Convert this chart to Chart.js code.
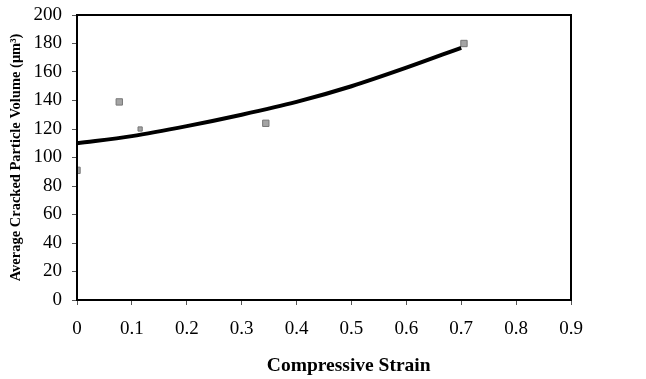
<!DOCTYPE html>
<html>
<head>
<meta charset="utf-8">
<script src="https://cdn.jsdelivr.net/npm/chart.js@4/dist/chart.umd.min.js"></script>
<style>
  html, body { margin: 0; padding: 0; background: #fff; }
  #wrap { width: 646px; height: 379px; }
</style>
</head>
<body>
<div id="wrap"><canvas id="c" width="646" height="379"></canvas></div>
<script>
// Measured particle volumes
const strainData = [0, 0.077, 0.115, 0.344, 0.705];
const volumeData = [91, 139, 120, 124, 180];

// Trend curve
const trendStrain = [0, 0.1, 0.2, 0.3, 0.4, 0.5, 0.6, 0.7];
const trendVolume = [110, 115, 122, 130, 139, 150, 163, 177];

const xTicks = [0, 0.1, 0.2, 0.3, 0.4, 0.5, 0.6, 0.7, 0.8, 0.9];
const yTicks = [0, 20, 40, 60, 80, 100, 120, 140, 160, 180, 200];

const xTitle = 'Compressive Strain';
const yTitle = 'Average Cracked Particle Volume (μm³)';

const serif = '"Liberation Serif", "Times New Roman", serif';

// Full frame round the plot area, plus the strain axis title
const frame = {
  id: 'frame',
  afterDatasetsDraw(chart) {
    const { ctx, chartArea: a } = chart;
    ctx.save();
    ctx.strokeStyle = '#000';
    ctx.lineWidth = 2;
    ctx.strokeRect(a.left, a.top, a.right - a.left, a.bottom - a.top);
    ctx.restore();
  },
  afterDraw(chart) {
    const { ctx, chartArea: a } = chart;
    ctx.save();
    ctx.fillStyle = '#000';
    ctx.font = 'bold 19.5px ' + serif;
    ctx.textAlign = 'center';
    ctx.textBaseline = 'middle';
    ctx.fillText(xTitle, a.left + (a.right - a.left) * 0.55, a.bottom + 66);
    ctx.restore();
  }
};

new Chart(document.getElementById('c'), {
  type: 'scatter',
  data: {
    datasets: [
      {
        label: 'Trend',
        type: 'line',
        data: trendStrain.map((x, i) => ({ x, y: trendVolume[i] })),
        borderColor: '#000',
        borderWidth: 4,
        pointRadius: 0,
        fill: false,
        cubicInterpolationMode: 'monotone'
      },
      {
        label: 'Measured',
        data: strainData.map((x, i) => ({ x, y: volumeData[i] })),
        pointStyle: 'rect',
        pointRadius: [4.5, 4.5, 3, 4.5, 4.5],
        backgroundColor: '#a4a4a4',
        borderColor: '#777',
        borderWidth: 1
      }
    ]
  },
  options: {
    responsive: false,
    animation: false,
    layout: { padding: { left: 0, right: 75, top: 15, bottom: 0 } },
    plugins: { legend: { display: false }, tooltip: { enabled: false } },
    scales: {
      x: {
        type: 'linear',
        min: 0,
        max: 0.9,
        afterBuildTicks(s) { s.ticks = xTicks.map(v => ({ value: v })); },
        afterFit(s) { s.height = 79; s.paddingLeft = 0; s.paddingRight = 0; },
        grid: { display: true, drawTicks: true, tickLength: 5, tickColor: '#555', drawOnChartArea: false },
        border: { display: true, color: '#000', width: 2 },
        ticks: {
          color: '#000',
          font: { family: serif, size: 19 },
          padding: 13,
          maxRotation: 0,
          callback: v => String(v)
        }
      },
      y: {
        min: 0,
        max: 200,
        afterBuildTicks(s) { s.ticks = yTicks.map(v => ({ value: v })); },
        afterFit(s) { s.width = 77; s.paddingTop = 0; s.paddingBottom = 0; },
        grid: { display: true, drawTicks: true, tickLength: 5, tickColor: '#555', drawOnChartArea: false },
        border: { display: true, color: '#000', width: 2 },
        ticks: {
          color: '#000',
          font: { family: serif, size: 19 },
          padding: 10
        },
        title: {
          display: true,
          text: yTitle,
          color: '#000',
          font: { family: serif, size: 14.5, weight: 'bold' },
          padding: { top: 8, bottom: 0 }
        }
      }
    }
  },
  plugins: [frame]
});
</script>
</body>
</html>
